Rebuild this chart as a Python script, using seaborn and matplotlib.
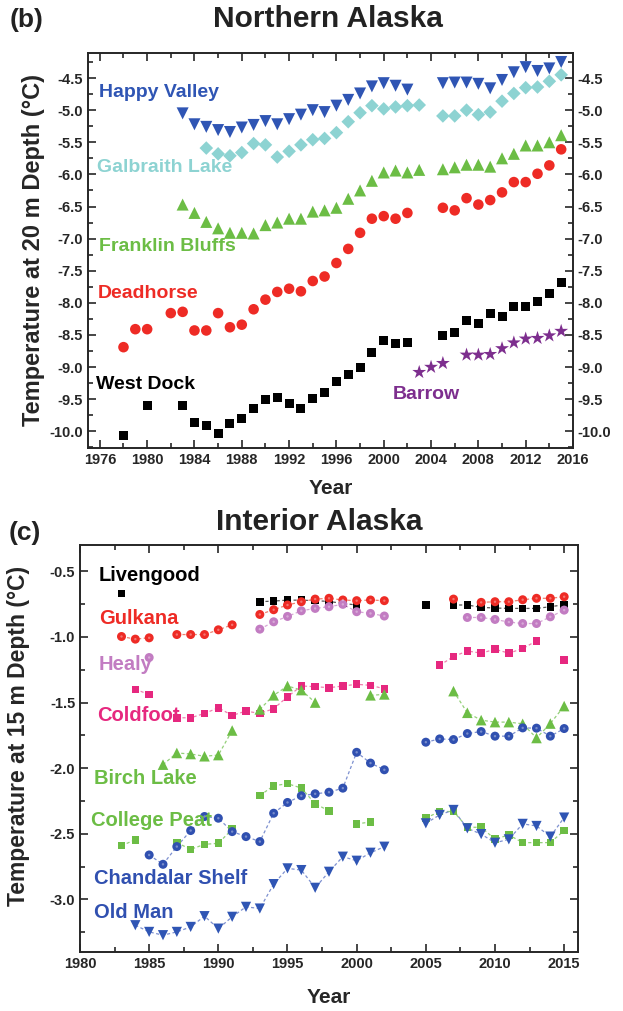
import matplotlib
matplotlib.use("Agg")
import matplotlib.pyplot as plt
import seaborn as sns
from matplotlib.ticker import MultipleLocator

# ---------------- Panel (b): Northern Alaska, 20 m depth ----------------
hv_years = list(range(1983, 2003)) + list(range(2005, 2016))
hv_temp = [-5.05, -5.22, -5.26, -5.31, -5.34, -5.27, -5.23, -5.17, -5.22, -5.14,
           -5.07, -5.00, -5.03, -4.93, -4.84, -4.74, -4.63, -4.58, -4.62, -4.68,
           -4.58, -4.57, -4.57, -4.59, -4.66, -4.53, -4.41, -4.33, -4.39, -4.35, -4.25]

gl_years = list(range(1985, 2004)) + list(range(2005, 2016))
gl_temp = [-5.59, -5.68, -5.71, -5.66, -5.52, -5.54, -5.73, -5.64, -5.54, -5.46,
           -5.44, -5.35, -5.18, -5.04, -4.93, -4.98, -4.95, -4.93, -4.92,
           -5.09, -5.09, -5.00, -5.07, -5.03, -4.86, -4.74, -4.65, -4.64, -4.55, -4.45]

fb_years = list(range(1983, 2004)) + list(range(2005, 2016))
fb_temp = [-6.47, -6.60, -6.74, -6.84, -6.91, -6.91, -6.92, -6.79, -6.75, -6.69,
           -6.69, -6.58, -6.56, -6.52, -6.38, -6.25, -6.10, -5.97, -5.94, -5.97, -5.93,
           -5.92, -5.89, -5.85, -5.85, -5.88, -5.75, -5.68, -5.55, -5.55, -5.50, -5.39]

dh_years = [1978, 1979, 1980] + list(range(1982, 2003)) + list(range(2005, 2016))
dh_temp = [-8.69, -8.41, -8.41, -8.16, -8.14, -8.43, -8.43, -8.16, -8.38, -8.34,
           -8.10, -7.95, -7.83, -7.78, -7.82, -7.66, -7.59, -7.38, -7.16, -6.91,
           -6.69, -6.65, -6.69, -6.60,
           -6.52, -6.56, -6.37, -6.47, -6.40, -6.28, -6.12, -6.12, -5.99, -5.86, -5.61]

wd_years = [1978, 1980] + list(range(1983, 2003)) + list(range(2005, 2016))
wd_temp = [-10.06, -9.60, -9.60, -9.87, -9.91, -10.03, -9.88, -9.80, -9.64, -9.50,
           -9.47, -9.56, -9.65, -9.49, -9.40, -9.22, -9.12, -9.00, -8.78, -8.59,
           -8.63, -8.61,
           -8.51, -8.46, -8.28, -8.32, -8.17, -8.21, -8.05, -8.05, -7.98, -7.85, -7.69]

br_years = [2003, 2004, 2005] + list(range(2007, 2016))
br_temp = [-9.08, -9.00, -8.94, -8.81, -8.81, -8.80, -8.71, -8.62, -8.56, -8.55, -8.51, -8.44]

# ---------------- Panel (c): Interior Alaska, 15 m depth ----------------
lv_years = [1983] + list(range(1993, 2001)) + [2005] + list(range(2007, 2016))
lv_temp = [-0.668, -0.732, -0.727, -0.720, -0.720, -0.724, -0.730, -0.745, -0.757,
           -0.757, -0.757, -0.757, -0.775, -0.780, -0.783, -0.783, -0.783, -0.770, -0.755]

gk_years = [1983, 1984, 1985, 1987, 1988, 1989, 1990, 1991] + list(range(1993, 2003)) \
    + [2007] + list(range(2009, 2016))
gk_temp = [-0.997, -1.017, -1.007, -0.982, -0.982, -0.982, -0.946, -0.908,
           -0.829, -0.793, -0.757, -0.732, -0.712, -0.706, -0.719, -0.724, -0.719, -0.724,
           -0.712, -0.737, -0.732, -0.732, -0.717, -0.706, -0.706, -0.694]

hl_years = [1985] + list(range(1993, 2003)) + list(range(2008, 2016))
hl_temp = [-1.157, -0.941, -0.885, -0.844, -0.801, -0.783, -0.770, -0.752, -0.808,
           -0.821, -0.841, -0.852, -0.852, -0.867, -0.887, -0.898, -0.898, -0.847, -0.796]

cf_years = [1984, 1985] + list(range(1987, 2003)) + list(range(2006, 2014)) + [2015]
cf_temp = [-1.400, -1.438, -1.616, -1.616, -1.583, -1.540, -1.598, -1.565, -1.583,
           -1.547, -1.456, -1.374, -1.379, -1.387, -1.374, -1.361, -1.369, -1.395,
           -1.216, -1.150, -1.107, -1.124, -1.094, -1.124, -1.089, -1.030, -1.178]

bl_years = list(range(1986, 1992)) + list(range(1993, 1998)) + [2001, 2002] + list(range(2007, 2016))
bl_temp = [-1.973, -1.884, -1.892, -1.909, -1.900, -1.713, -1.552, -1.445, -1.374,
           -1.405, -1.500, -1.445, -1.438, -1.413, -1.578, -1.634, -1.649, -1.649,
           -1.662, -1.770, -1.660, -1.527]

cp_years = [1983, 1984] + list(range(1987, 1992)) + list(range(1993, 1999)) + [2000, 2001] \
    + list(range(2005, 2016))
cp_temp = [-2.590, -2.545, -2.567, -2.618, -2.580, -2.572, -2.465, -2.208, -2.134,
           -2.118, -2.151, -2.271, -2.325, -2.424, -2.410, -2.380, -2.330, -2.330,
           -2.450, -2.450, -2.541, -2.508, -2.567, -2.567, -2.567, -2.475]

cs_years = list(range(1985, 2003)) + list(range(2005, 2016))
cs_temp = [-2.661, -2.732, -2.597, -2.475, -2.368, -2.381, -2.483, -2.521, -2.559,
           -2.343, -2.261, -2.210, -2.195, -2.183, -2.152, -1.879, -1.961, -2.012,
           -1.802, -1.777, -1.782, -1.736, -1.721, -1.756, -1.756, -1.693, -1.695,
           -1.756, -1.698]

om_years = list(range(1984, 2003)) + list(range(2005, 2016))
om_temp = [-3.196, -3.247, -3.272, -3.247, -3.209, -3.127, -3.222, -3.132, -3.056,
           -3.069, -2.883, -2.763, -2.776, -2.911, -2.789, -2.674, -2.705, -2.644,
           -2.598, -2.420, -2.356, -2.318, -2.458, -2.502, -2.568, -2.542, -2.424,
           -2.440, -2.521, -2.376]

b_xticks = list(range(1976, 2017, 4))
b_yticks = [-10.0, -9.5, -9.0, -8.5, -8.0, -7.5, -7.0, -6.5, -6.0, -5.5, -5.0, -4.5]
c_xticks = list(range(1980, 2016, 5))
c_yticks = [-3.0, -2.5, -2.0, -1.5, -1.0, -0.5]

# ---------------- styling ----------------
sns.set_style("ticks")
plt.rcParams["font.family"] = ["Liberation Sans", "DejaVu Sans"]
plt.rcParams["font.weight"] = "bold"
plt.rcParams["axes.linewidth"] = 1.4
plt.rcParams["axes.unicode_minus"] = False

BLUE = "#2f55b4"
CYAN = "#8dd3d2"
GREEN = "#6cbd45"
RED = "#ee2b25"
PURPLE = "#7d2e8e"
PINK = "#e6287f"
LILAC = "#c27cc2"
CBLUE = "#3050b0"

fig = plt.figure(figsize=(6.23, 10.11), dpi=100)
W, H = 623, 1011


def add_axes_px(l, t, r, b):
    return fig.add_axes([l / W, 1 - b / H, (r - l) / W, (b - t) / H])


def style_axes(ax):
    ax.tick_params(which="both", direction="in", top=True, right=True,
                   labelsize=10.5, width=1.2)
    ax.tick_params(which="major", length=6)
    ax.tick_params(which="minor", length=3.5)
    for lab in ax.get_xticklabels() + ax.get_yticklabels():
        lab.set_fontweight("bold")


# ---------- panel b ----------
axb = add_axes_px(88, 53, 573, 448)
series_b = [
    (hv_years, hv_temp, "v", 75, BLUE),
    (gl_years, gl_temp, "D", 48, CYAN),
    (fb_years, fb_temp, "^", 75, GREEN),
    (dh_years, dh_temp, "o", 58, RED),
    (wd_years, wd_temp, "s", 42, "black"),
    (br_years, br_temp, "*", 110, PURPLE),
]
for xs, ys, m, s, c in series_b:
    sns.scatterplot(x=xs, y=ys, marker=m, s=s, color=c, edgecolor="none",
                    linewidth=0, ax=axb, legend=False)
axb.set_xlim(1975, 2016)
axb.set_ylim(-10.26, -4.11)
axb.set_xticks(b_xticks)
axb.set_yticks(b_yticks)
axb.set_yticklabels([f"{v:.1f}" for v in b_yticks])
axb.xaxis.set_minor_locator(MultipleLocator(2))
axb.yaxis.set_minor_locator(MultipleLocator(0.25))
style_axes(axb)
axb.tick_params(labelright=True)
for lab in axb.get_yticklabels():
    lab.set_fontweight("bold")
axb.set_xlabel("Year", fontsize=15, fontweight="bold", labelpad=9)
axb.set_ylabel("Temperature at 20 m Depth (°C)", fontsize=17, fontweight="bold", labelpad=3)

lab_b = [
    ("Happy Valley", 1975.95, -4.72, BLUE),
    ("Galbraith Lake", 1975.8, -5.90, CYAN),
    ("Franklin Bluffs", 1975.95, -7.12, GREEN),
    ("Deadhorse", 1975.85, -7.85, RED),
    ("West Dock", 1975.65, -9.27, "black"),
    ("Barrow", 2000.8, -9.42, PURPLE),
]
for t, x, y, c in lab_b:
    axb.text(x, y, t, color=c, fontsize=14, fontweight="bold", ha="left", va="center")

# ---------- panel c ----------
axc = add_axes_px(80, 545, 578, 952)


def runs(years, vals):
    out, cur = [], [(years[0], vals[0])]
    for yr, v in zip(years[1:], vals[1:]):
        if yr - cur[-1][0] == 1:
            cur.append((yr, v))
        else:
            out.append(cur)
            cur = [(yr, v)]
    out.append(cur)
    return out


series_c = [
    (lv_years, lv_temp, "s", 30, "black", "#555555"),
    (gk_years, gk_temp, "o", 42, RED, "#f08070"),
    (hl_years, hl_temp, "o", 42, LILAC, "#d7a6d5"),
    (cf_years, cf_temp, "s", 30, PINK, "#ef7fae"),
    (bl_years, bl_temp, "^", 58, GREEN, "#94d07a"),
    (cp_years, cp_temp, "s", 30, GREEN, "#94d07a"),
    (cs_years, cs_temp, "o", 42, CBLUE, "#7d90d0"),
    (om_years, om_temp, "v", 54, BLUE, "#7d90d0"),
]
for xs, ys, m, s, c, lc in series_c:
    for seg in runs(xs, ys):
        if len(seg) > 1:
            sns.lineplot(x=[p[0] for p in seg], y=[p[1] for p in seg], ax=axc,
                         color=lc, linewidth=0.9, linestyle=(0, (2.5, 2)),
                         estimator=None, sort=False, legend=False)
for xs, ys, m, s, c, lc in series_c:
    sns.scatterplot(x=xs, y=ys, marker=m, s=s, color=c, edgecolor="none",
                    linewidth=0, ax=axc, legend=False, zorder=3)
    if m == "o":
        sns.scatterplot(x=xs, y=ys, marker="o", s=3, color="white", alpha=0.35,
                        edgecolor="none", linewidth=0, ax=axc, legend=False, zorder=4)

axc.set_xlim(1980, 2016)
axc.set_ylim(-3.4, -0.3)
axc.set_xticks(c_xticks)
axc.set_yticks(c_yticks)
axc.set_yticklabels([f"{v:.1f}" for v in c_yticks])
axc.xaxis.set_minor_locator(MultipleLocator(2.5))
axc.yaxis.set_minor_locator(MultipleLocator(0.25))
style_axes(axc)
axc.set_xlabel("Year", fontsize=15, fontweight="bold", labelpad=12)
axc.set_ylabel("Temperature at 15 m Depth (°C)", fontsize=16.5, fontweight="bold")
axc.yaxis.set_label_coords(-0.1, 0.53)

lab_c = [
    ("Livengood", 1981.35, -0.53, "black"),
    ("Gulkana", 1981.35, -0.86, RED),
    ("Healy", 1981.35, -1.21, LILAC),
    ("Coldfoot", 1981.23, -1.60, PINK),
    ("Birch Lake", 1981.0, -2.08, GREEN),
    ("College Peat", 1980.8, -2.40, GREEN),
    ("Chandalar Shelf", 1981.0, -2.84, CBLUE),
    ("Old Man", 1981.0, -3.10, CBLUE),
]
for t, x, y, c in lab_c:
    axc.text(x, y, t, color=c, fontsize=14.5, fontweight="bold", ha="left", va="center")

# titles and panel letters
fig.text(328 / W, 1 - 19 / H, "Northern Alaska", fontsize=21.5, fontweight="bold",
         ha="center", va="center", color="#222222")
fig.text(319 / W, 1 - 522 / H, "Interior Alaska", fontsize=21.5, fontweight="bold",
         ha="center", va="center", color="#222222")
fig.text(27 / W, 1 - 20 / H, "(b)", fontsize=19, fontweight="bold",
         ha="center", va="center", color="#222222")
fig.text(25 / W, 1 - 533 / H, "(c)", fontsize=19, fontweight="bold",
         ha="center", va="center", color="#222222")

fig.savefig("out.png", dpi=100)
